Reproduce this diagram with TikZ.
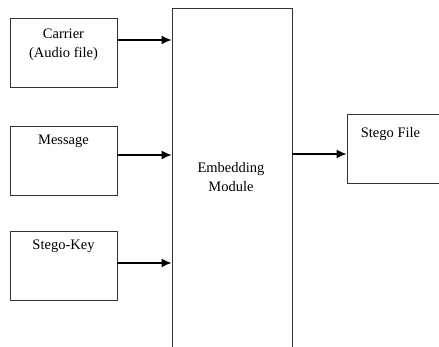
\documentclass[tikz,border=0pt]{standalone}
\usepackage{fontspec}
\setmainfont{Liberation Serif}
\usetikzlibrary{arrows.meta}
\usetikzlibrary{positioning}
\tikzset{
  arrow/.style = {
    -{Latex[length=10pt,width=9pt]},
    line width=1.4pt
  },
  block/.style = {
    rectangle,
    draw=black!80,
    line width=0.9pt,
    minimum width=107pt,
    minimum height=69pt,
    inner sep=0pt
  },
  blocktext/.style = {
    inner sep=0pt,
    align=center,
    font=\fontsize{14.5}{19}\selectfont
  },
}
\begin{document}
\begin{tikzpicture}[x=1pt,y=1pt]
  \useasboundingbox (0,0) rectangle (439,347);

  % inputs
  \node [block] (carrier) at (63.5,294.5) {};
  \node [block] (message) at (63.5,186.5) {};
  \node [block] (stegokey) at (63.5,81.5) {};

  \node [blocktext,anchor=north] (carrier-label) at ([yshift=-11.5pt]carrier.north) {Carrier\\(Audio file)};
  \node [blocktext,anchor=north] (message-label) at ([yshift=-9.5pt]message.north) {Message};
  \node [blocktext,anchor=north] (stegokey-label) at ([yshift=-9.5pt]stegokey.north) {Stego-Key};

  % module, runs off the bottom
  \node [block,minimum width=120pt,minimum height=346pt] (embed) at (232,166) {};
  \node [blocktext,anchor=north] (embed-label) at ([xshift=-1pt,yshift=18.5pt]embed.center) {Embedding\\Module};

  % output, runs off the right
  \node [block,minimum width=96pt] (stego) at (395,198.5) {};
  \node [blocktext,anchor=north] (stego-label) at ([xshift=-4.5pt,yshift=-13.5pt]stego.north) {Stego File};

  \coordinate (carrier-out) at ([yshift=12.5pt]carrier.east);
  \coordinate (message-out) at ([yshift=5.5pt]message.east);
  \coordinate (stegokey-out) at ([yshift=2.5pt]stegokey.east);
  \coordinate (stego-in) at ([yshift=-5.5pt]stego.west);

  \draw [arrow] (carrier-out) -- (carrier-out -| embed.west);
  \draw [arrow] (message-out) -- (message-out -| embed.west);
  \draw [arrow] (stegokey-out) -- (stegokey-out -| embed.west);
  \draw [arrow] (stego-in -| embed.east) -- (stego-in);
\end{tikzpicture}
\end{document}
